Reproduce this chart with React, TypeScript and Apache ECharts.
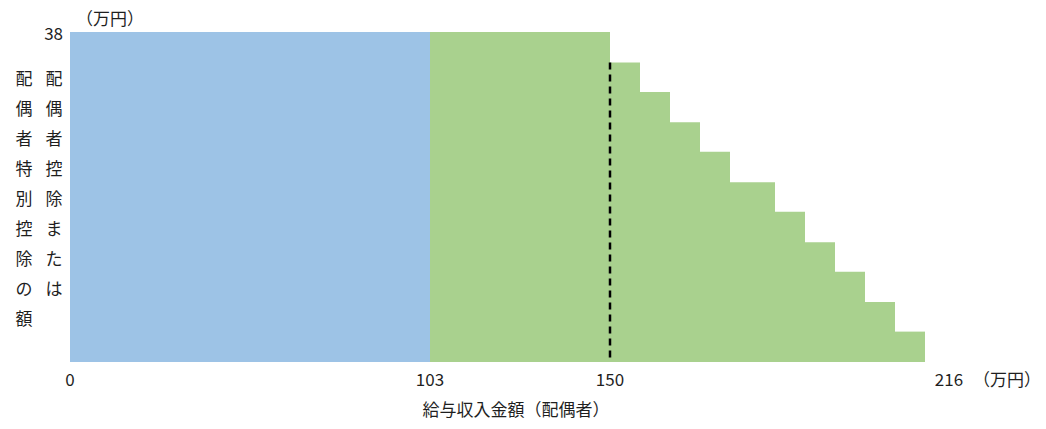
import React, { useEffect, useRef } from "react";
import * as echarts from "echarts";

// Schematic x positions (the reference is drawn out of scale), heights in 万円
const segStart = [0, 12, 18, 19, 20, 21, 22, 23.5, 24.5, 25.5, 26.5, 27.5];
const segEnd = [12, 18, 19, 20, 21, 22, 23.5, 24.5, 25.5, 26.5, 27.5, 28.5];
const segValue = [38, 38, 34.5, 31.1, 27.6, 24.2, 20.7, 17.3, 13.8, 10.4, 6.9, 3.5];
const segKind = [0, 1, 1, 1, 1, 1, 1, 1, 1, 1, 1, 1];
const kindColors = ["#9DC3E6", "#A9D18E"];

const xTickPositions = [0, 12, 18, 29.3];
const xTickLabels = ["0", "103", "150", "216"];
const yTickValues = [38];

const dashX = 18;
const dashTop = 34.5;

const leftTitle1 = "配偶者特別控除の額";
const leftTitle2 = "配偶者控除または";
const xTitle = "給与収入金額（配偶者）";
const unitText = "（万円）";

const FONT = "'Noto Sans CJK JP', 'Noto Sans', sans-serif";
const TEXT_COLOR = "#1f1f1f";

export default function App() {
  const ref = useRef<HTMLDivElement>(null);
  useEffect(() => {
    document.body.style.margin = "0";
    if (!ref.current) return;
    const chart = echarts.init(ref.current, null, { renderer: "svg" });
    const data = segStart.map((s, i) => [s, segEnd[i], segValue[i], segKind[i]]);
    chart.setOption({
      animation: false,
      grid: { left: 70, top: 32, width: 930, height: 330 },
      xAxis: {
        type: "value",
        min: 0,
        max: 31,
        splitLine: { show: false },
        axisLine: { show: false },
        axisTick: { show: false },
        axisLabel: {
          customValues: xTickPositions,
          formatter: (v: number) => {
            const i = xTickPositions.findIndex((p) => Math.abs(p - v) < 1e-6);
            return i >= 0 ? xTickLabels[i] : "";
          },
          fontSize: 17,
          fontFamily: FONT,
          color: TEXT_COLOR,
          margin: 8,
        },
      },
      yAxis: {
        type: "value",
        min: 0,
        max: 38,
        splitLine: { show: false },
        axisLine: { show: false },
        axisTick: { show: false },
        axisLabel: {
          customValues: yTickValues,
          fontSize: 17,
          fontFamily: FONT,
          color: TEXT_COLOR,
          margin: 7,
        },
      },
      series: [
        {
          type: "custom",
          data,
          encode: { x: [0, 1], y: 2 },
          renderItem: (params: any, api: any) => {
            const x0 = api.value(0);
            const x1 = api.value(1);
            const v = api.value(2);
            const k = api.value(3);
            const p0 = api.coord([x0, v]);
            const p1 = api.coord([x1, 0]);
            return {
              type: "rect",
              shape: { x: p0[0], y: p0[1], width: p1[0] - p0[0], height: p1[1] - p0[1] },
              style: { fill: kindColors[k] },
            };
          },
        },
        {
          type: "line",
          data: [
            [dashX, dashTop],
            [dashX, 0],
          ],
          symbol: "none",
          lineStyle: { color: "#000", width: 2.5, type: [7, 5] },
          z: 5,
        },
      ],
      graphic: [
        {
          type: "text",
          x: 24,
          y: 62,
          style: {
            text: leftTitle1.split("").join("\n"),
            font: `17px ${FONT}`,
            lineHeight: 30,
            fill: TEXT_COLOR,
            align: "center",
            verticalAlign: "top",
          },
        },
        {
          type: "text",
          x: 54,
          y: 62,
          style: {
            text: leftTitle2.split("").join("\n"),
            font: `17px ${FONT}`,
            lineHeight: 30,
            fill: TEXT_COLOR,
            align: "center",
            verticalAlign: "top",
          },
        },
        {
          type: "text",
          x: 110,
          y: 17,
          style: {
            text: unitText,
            font: `17px ${FONT}`,
            fill: TEXT_COLOR,
            align: "center",
            verticalAlign: "middle",
          },
        },
        {
          type: "text",
          x: 1007,
          y: 378,
          style: {
            text: unitText,
            font: `17px ${FONT}`,
            fill: TEXT_COLOR,
            align: "center",
            verticalAlign: "middle",
          },
        },
        {
          type: "text",
          x: 516,
          y: 408,
          style: {
            text: xTitle,
            font: `17px ${FONT}`,
            fill: TEXT_COLOR,
            align: "center",
            verticalAlign: "middle",
          },
        },
      ],
    });
    return () => chart.dispose();
  }, []);
  return <div ref={ref} style={{ width: 1046, height: 429 }} />;
}
